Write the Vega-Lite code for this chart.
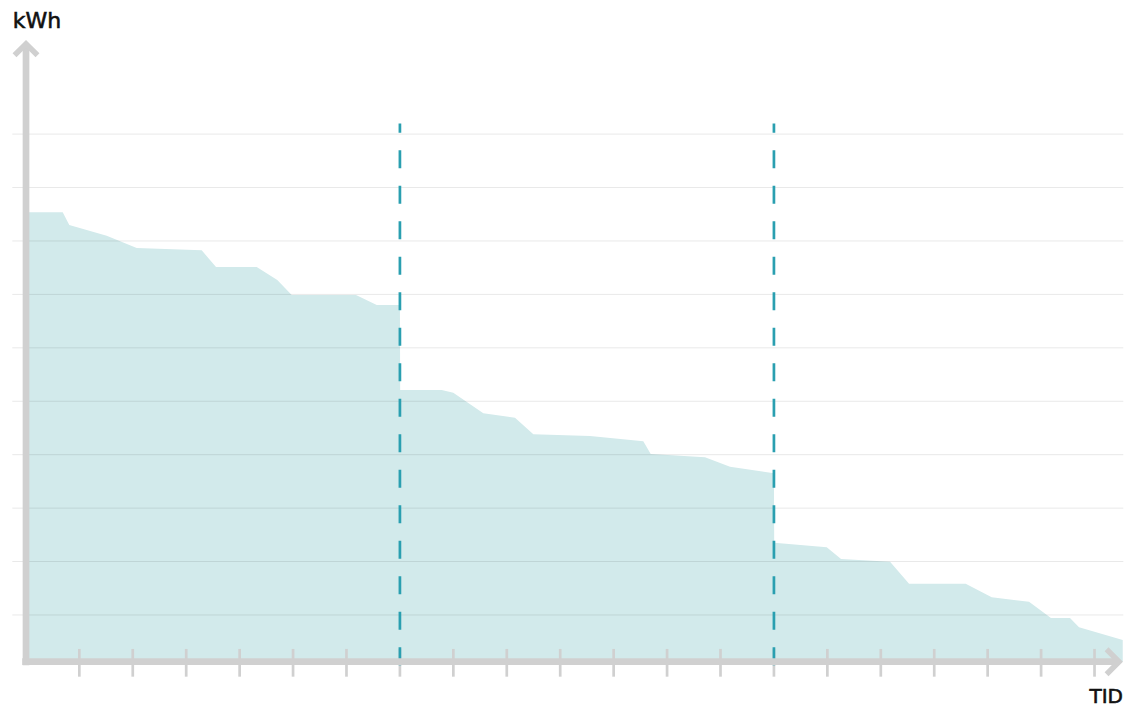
{
  "$schema": "https://vega.github.io/schema/vega-lite/v6.json",
  "width": 1130,
  "height": 710,
  "padding": 0,
  "autosize": {"type": "none"},
  "background": "#ffffff",
  "config": {"view": {"stroke": null}},
  "datasets": {
    "curve": [
      {"t": 0.0, "kwh": 8.536},
      {"t": 0.689, "kwh": 8.536},
      {"t": 0.812, "kwh": 8.299},
      {"t": 1.512, "kwh": 8.098},
      {"t": 2.074, "kwh": 7.868},
      {"t": 3.29, "kwh": 7.825},
      {"t": 3.558, "kwh": 7.513},
      {"t": 4.32, "kwh": 7.513},
      {"t": 4.705, "kwh": 7.269},
      {"t": 4.975, "kwh": 6.989},
      {"t": 6.178, "kwh": 6.989},
      {"t": 6.566, "kwh": 6.801},
      {"t": 7.0, "kwh": 6.801},
      {"t": 7.005, "kwh": 5.21},
      {"t": 7.782, "kwh": 5.21},
      {"t": 7.999, "kwh": 5.16},
      {"t": 8.561, "kwh": 4.775},
      {"t": 9.154, "kwh": 4.692},
      {"t": 9.497, "kwh": 4.381},
      {"t": 10.558, "kwh": 4.35},
      {"t": 11.555, "kwh": 4.25},
      {"t": 11.694, "kwh": 4.013},
      {"t": 12.71, "kwh": 3.951},
      {"t": 13.178, "kwh": 3.775},
      {"t": 14.0, "kwh": 3.652},
      {"t": 14.005, "kwh": 2.353},
      {"t": 14.988, "kwh": 2.266},
      {"t": 15.256, "kwh": 2.048},
      {"t": 16.173, "kwh": 1.997},
      {"t": 16.529, "kwh": 1.585},
      {"t": 17.589, "kwh": 1.585},
      {"t": 18.076, "kwh": 1.331},
      {"t": 18.774, "kwh": 1.248},
      {"t": 19.185, "kwh": 0.943},
      {"t": 19.541, "kwh": 0.943},
      {"t": 19.71, "kwh": 0.769},
      {"t": 20.528, "kwh": 0.532}
    ],
    "grid": [
      {"g": 1}, {"g": 2}, {"g": 3}, {"g": 4}, {"g": 5},
      {"g": 6}, {"g": 7}, {"g": 8}, {"g": 9}, {"g": 10}
    ],
    "ticks": [
      {"tick": 1}, {"tick": 2}, {"tick": 3}, {"tick": 4}, {"tick": 5},
      {"tick": 6}, {"tick": 7}, {"tick": 8}, {"tick": 9}, {"tick": 10},
      {"tick": 11}, {"tick": 12}, {"tick": 13}, {"tick": 14}, {"tick": 15},
      {"tick": 16}, {"tick": 17}, {"tick": 18}, {"tick": 19}, {"tick": 20}
    ],
    "periods": [{"d": 7}, {"d": 14}],
    "one": [{}]
  },
  "layer": [
    {
      "data": {"name": "curve"},
      "mark": {"type": "area", "color": "#d2eaeb", "opacity": 1, "interpolate": "linear"},
      "encoding": {
        "x": {"field": "t", "type": "quantitative", "axis": null, "scale": {"domain": [-0.4847, 20.664], "nice": false, "zero": false}},
        "y": {"field": "kwh", "type": "quantitative", "axis": null, "scale": {"domain": [-0.7786, 12.51], "nice": false, "zero": false}},
        "y2": {"datum": 0.125}
      }
    },
    {
      "data": {"name": "grid"},
      "mark": {"type": "rule", "color": "#000000", "strokeOpacity": 0.09, "strokeWidth": 1},
      "encoding": {
        "y": {"field": "g", "type": "quantitative"},
        "x": {"datum": -0.2545},
        "x2": {"datum": 20.539}
      }
    },
    {
      "data": {"name": "ticks"},
      "mark": {"type": "rule", "color": "#d0d0d0", "strokeWidth": 2.7},
      "encoding": {
        "x": {"field": "tick", "type": "quantitative"},
        "y": {"datum": 0.364},
        "y2": {"datum": -0.155}
      }
    },
    {
      "data": {"name": "periods"},
      "mark": {"type": "rule", "color": "#2a9fb0", "strokeWidth": 2.7, "strokeDash": [18, 17.5]},
      "encoding": {
        "x": {"field": "d", "type": "quantitative"},
        "y": {"datum": 0.058},
        "y2": {"datum": 10.2}
      }
    },
    {
      "data": {"name": "one"},
      "mark": {"type": "rule", "color": "#d0d0d0", "strokeWidth": 6.7},
      "encoding": {
        "x": {"datum": 0.002},
        "y": {"datum": 0.058},
        "y2": {"datum": 11.66}
      }
    },
    {
      "data": {"name": "one"},
      "mark": {"type": "rule", "color": "#d0d0d0", "strokeWidth": 6.7},
      "encoding": {
        "y": {"datum": 0.125},
        "x": {"datum": -0.069},
        "x2": {"datum": 20.43}
      }
    },
    {
      "data": {"name": "one"},
      "mark": {"type": "point", "shape": "M-1,1L0,0L1,1", "size": 529, "filled": false, "color": "#d0d0d0", "opacity": 1, "strokeWidth": 5.5, "strokeJoin": "miter"},
      "encoding": {
        "x": {"datum": 0.002},
        "y": {"datum": 11.69}
      }
    },
    {
      "data": {"name": "one"},
      "mark": {"type": "point", "shape": "M-1,-1L0,0L-1,1", "size": 625, "filled": false, "color": "#d0d0d0", "opacity": 1, "strokeWidth": 5.5, "strokeJoin": "miter"},
      "encoding": {
        "x": {"datum": 20.459},
        "y": {"datum": 0.125}
      }
    },
    {
      "data": {"name": "one"},
      "mark": {"type": "text", "text": "kWh", "align": "left", "baseline": "alphabetic", "font": "DejaVu Sans", "fontSize": 22, "fontWeight": "normal", "color": "#111111", "stroke": "#111111", "strokeWidth": 0.6},
      "encoding": {
        "x": {"datum": -0.247},
        "y": {"datum": 11.98}
      }
    },
    {
      "data": {"name": "one"},
      "mark": {"type": "text", "text": "TID", "align": "right", "baseline": "alphabetic", "font": "DejaVu Sans", "fontSize": 20, "fontWeight": "normal", "color": "#111111", "stroke": "#111111", "strokeWidth": 0.6},
      "encoding": {
        "x": {"datum": 20.533},
        "y": {"datum": -0.653}
      }
    }
  ]
}
